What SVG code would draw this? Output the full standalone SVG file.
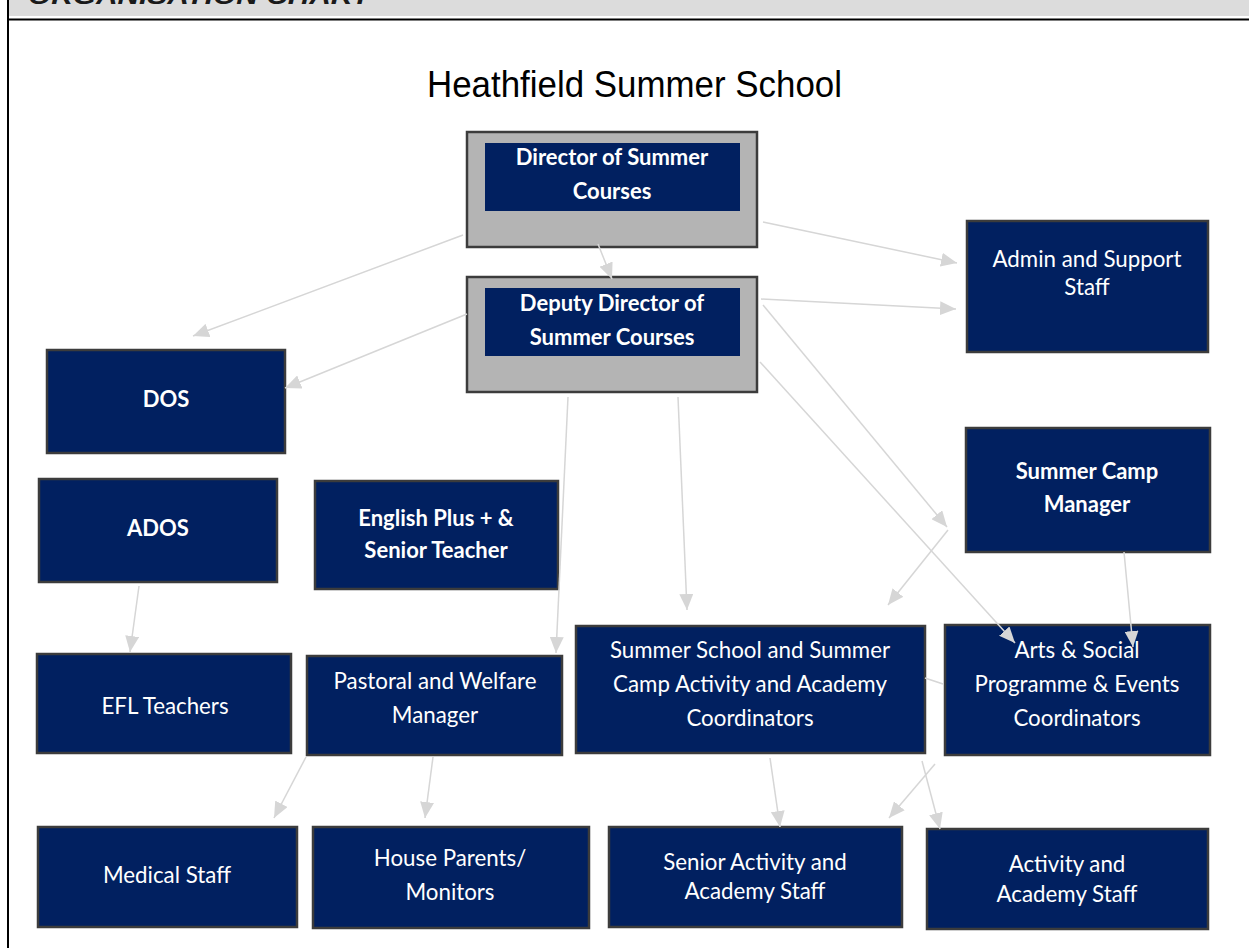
<svg xmlns="http://www.w3.org/2000/svg" width="1249" height="948" viewBox="0 0 1249 948">
  <style>
    .box { fill: #012060; stroke: #3c3c3c; stroke-width: 2.5; }
    .frame { fill: #b4b4b4; stroke: #3c3c3c; stroke-width: 2.5; }
    .inner { fill: #012060; stroke: none; }
    .t { font-family: Lato, "Liberation Sans", sans-serif; font-size: 22.3px; fill: #ffffff; text-anchor: middle; }
    .b { font-weight: bold; font-size: 22px; }
    .link { stroke: #d6d6d6; stroke-width: 1.5; fill: none; marker-end: url(#arrow); }
  </style>
  <defs>
    <marker id="arrow" viewBox="0 0 16 14" refX="16" refY="7" markerWidth="16" markerHeight="14" markerUnits="userSpaceOnUse" orient="auto">
      <path d="M0,0 L16,7 L0,14 z" fill="#d6d6d6"/>
    </marker>
  </defs>

  <rect width="1249" height="948" fill="#ffffff"/>

  <!-- page header band and frame -->
  <g id="page-frame">
    <rect x="9" y="0" width="1240" height="16" fill="#dcdcdc"/>
    <text x="28" y="3.5" font-family="'Liberation Sans', Arial, sans-serif" font-size="24" font-weight="bold" font-style="italic" fill="#1a1a1a" textLength="342" lengthAdjust="spacingAndGlyphs">ORGANISATION CHART</text>
    <line x1="7" y1="19.5" x2="1249" y2="19.5" stroke="#000" stroke-width="2"/>
    <line x1="8" y1="0" x2="8" y2="948" stroke="#000" stroke-width="2"/>
  </g>

  <text id="title" x="427" y="97" font-family="'Liberation Sans', Arial, sans-serif" font-size="36" fill="#000" textLength="415" lengthAdjust="spacingAndGlyphs">Heathfield Summer School</text>

  <g id="director">
    <rect class="frame" x="467" y="132" width="290" height="115"/>
    <rect class="inner" x="485" y="143" width="255" height="68"/>
    <text class="t b" x="612" y="165">Director of Summer</text>
    <text class="t b" x="612" y="199">Courses</text>
  </g>

  <g id="deputy-director">
    <rect class="frame" x="467" y="277" width="290" height="115"/>
    <rect class="inner" x="485" y="288" width="255" height="68"/>
    <text class="t b" x="612" y="311">Deputy Director of</text>
    <text class="t b" x="612" y="345">Summer Courses</text>
  </g>

  <g id="admin-support">
    <rect class="box" x="967" y="221" width="241" height="131"/>
    <text class="t" x="1087" y="267">Admin and Support</text>
    <text class="t" x="1087" y="295">Staff</text>
  </g>

  <g id="dos">
    <rect class="box" x="47" y="350" width="238" height="103"/>
    <text class="t b" x="166" y="407">DOS</text>
  </g>

  <g id="ados">
    <rect class="box" x="39" y="479" width="238" height="103"/>
    <text class="t b" x="158" y="536">ADOS</text>
  </g>

  <g id="english-plus">
    <rect class="box" x="315" y="481" width="243" height="108"/>
    <text class="t b" x="436" y="526">English Plus + &amp;</text>
    <text class="t b" x="436" y="558">Senior Teacher</text>
  </g>

  <g id="summer-camp-manager">
    <rect class="box" x="966" y="428" width="244" height="124"/>
    <text class="t b" x="1087" y="479">Summer Camp</text>
    <text class="t b" x="1087" y="512">Manager</text>
  </g>

  <g id="efl-teachers">
    <rect class="box" x="37" y="654" width="254" height="99"/>
    <text class="t" x="165" y="714">EFL Teachers</text>
  </g>

  <g id="pastoral-welfare">
    <rect class="box" x="307" y="656" width="255" height="99"/>
    <text class="t" x="435" y="689">Pastoral and Welfare</text>
    <text class="t" x="435" y="723">Manager</text>
  </g>

  <g id="activity-coordinators">
    <rect class="box" x="576" y="626" width="349" height="127"/>
    <text class="t" x="750" y="658">Summer School and Summer</text>
    <text class="t" x="750" y="692">Camp Activity and Academy</text>
    <text class="t" x="750" y="726">Coordinators</text>
  </g>

  <g id="arts-social">
    <rect class="box" x="945" y="625" width="265" height="130"/>
    <text class="t" x="1077" y="658">Arts &amp; Social</text>
    <text class="t" x="1077" y="692">Programme &amp; Events</text>
    <text class="t" x="1077" y="726">Coordinators</text>
  </g>

  <g id="medical-staff">
    <rect class="box" x="38" y="827" width="259" height="100"/>
    <text class="t" x="167" y="883">Medical Staff</text>
  </g>

  <g id="house-parents">
    <rect class="box" x="313" y="827" width="276" height="101"/>
    <text class="t" x="450" y="866">House Parents/</text>
    <text class="t" x="450" y="900">Monitors</text>
  </g>

  <g id="senior-activity-staff">
    <rect class="box" x="609" y="827" width="293" height="100"/>
    <text class="t" x="755" y="870">Senior Activity and</text>
    <text class="t" x="755" y="899">Academy Staff</text>
  </g>

  <g id="activity-staff">
    <rect class="box" x="927" y="829" width="281" height="100"/>
    <text class="t" x="1067" y="872">Activity and</text>
    <text class="t" x="1067" y="902">Academy Staff</text>
  </g>

  <!-- reporting lines -->
  <g id="connectors">
    <line class="link" x1="463" y1="235" x2="193" y2="336"/>
    <line class="link" x1="467" y1="314" x2="285" y2="388"/>
    <line class="link" x1="598" y1="244" x2="612" y2="279"/>
    <line class="link" x1="763" y1="222" x2="957" y2="263"/>
    <line class="link" x1="761" y1="299" x2="956" y2="309"/>
    <line class="link" x1="763" y1="305" x2="947" y2="527"/>
    <line class="link" x1="948" y1="530" x2="888" y2="605"/>
    <line class="link" x1="760" y1="362" x2="1015" y2="643"/>
    <line class="link" x1="1124" y1="552" x2="1133" y2="647"/>
    <line class="link" x1="678" y1="397" x2="687" y2="610"/>
    <line class="link" x1="568" y1="397" x2="556" y2="653"/>
    <line class="link" x1="139" y1="586" x2="130" y2="652"/>
    <line class="link" x1="306" y1="757" x2="274" y2="818"/>
    <line class="link" x1="433" y1="757" x2="425" y2="818"/>
    <line class="link" x1="770" y1="758" x2="780" y2="827"/>
    <line class="link" x1="922" y1="761" x2="940" y2="829"/>
    <line class="link" x1="935" y1="764" x2="889" y2="818"/>
    <line x1="925" y1="678" x2="943" y2="684" stroke="#d6d6d6" stroke-width="1.5"/>
  </g>
</svg>
